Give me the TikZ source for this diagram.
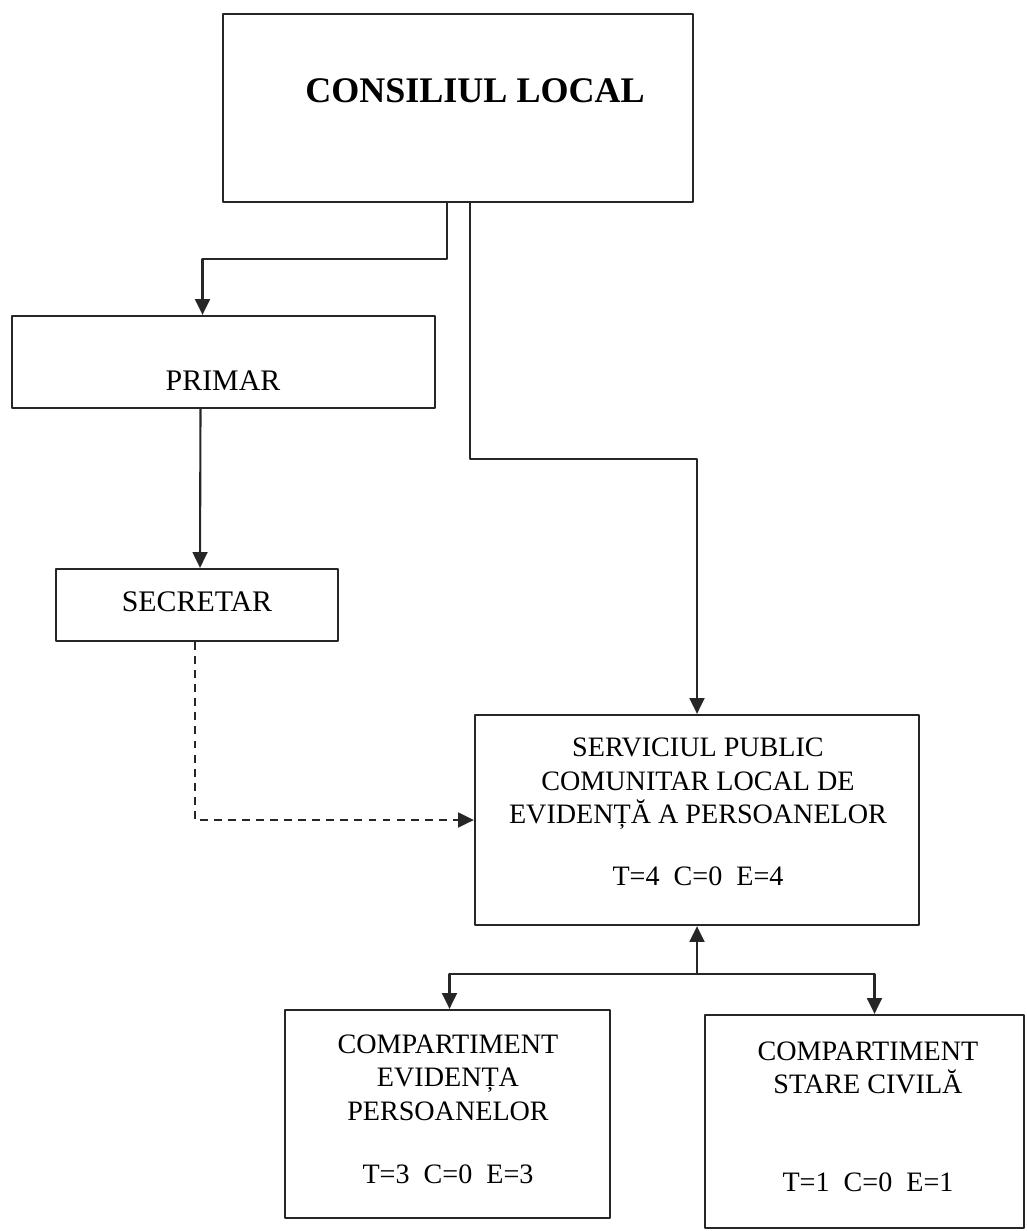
\documentclass[tikz,border=0pt]{standalone}
\usepackage{fontspec}
\setmainfont{Liberation Serif}
\usetikzlibrary{arrows.meta,calc,fit}
\begin{document}
\begin{tikzpicture}[x=0.02cm, y=-0.02cm, line join=round, >={Triangle[length=9pt,width=8.5pt]},
  box/.style={draw=black!85, line width=1.3pt, inner sep=0pt},
  lbl/.style={anchor=base, align=center, inner sep=0pt, font=\fontsize{16}{19}\selectfont},
  link/.style={->, draw=black!85, line width=1.2pt},
  dash link/.style={link, dash pattern=on 4.5pt off 3.5pt}]
\useasboundingbox (0,0) rectangle (1027,1231);
% boxes
\node[box, fit={(223,14) (693,202)}] (cl) {};
\node[box, fit={(12,316) (435,408)}] (prim) {};
\node[box, fit={(56,569) (338,641)}] (sec) {};
\node[box, fit={(475,715) (919,925)}] (serv) {};
\node[box, fit={(285,1010) (610,1218)}] (ev) {};
\node[box, fit={(705,1015) (1024,1228)}] (sc) {};
% texts (base = last line)
\node[lbl, font=\fontsize{20.5}{24}\selectfont\bfseries] (cl-t) at (475,102) {CONSILIUL LOCAL};
\node[lbl, font=\fontsize{17}{20}\selectfont] (prim-t) at (223,390) {PRIMAR};
\node[lbl, font=\fontsize{17}{20}\selectfont] (sec-t) at (197,611) {SECRETAR};
\node[lbl] (serv-t) at (698,885) {SERVICIUL PUBLIC\\ COMUNITAR LOCAL DE\\ EVIDENȚĂ A PERSOANELOR\\[16pt] T=4~~C=0~~E=4};
\node[lbl] (ev-t) at (448,1183) {COMPARTIMENT\\ EVIDENȚA\\ PERSOANELOR\\[16.7pt] T=3~~C=0~~E=3};
\node[lbl] (sc-t) at (868,1191) {COMPARTIMENT\\ STARE CIVILĂ\\[36.5pt] T=1~~C=0~~E=1};
% connectors
\draw[link] ($(cl.south)+(-11,0)$) -- ++(0,56) -| ($(prim.north)+(-21,0)$);
\draw[link] ($(prim.south)+(-23,0)$) -- ($(sec.north)+(3,0)$);
\draw[link] ($(cl.south)+(12,0)$) -- ++(0,256) -| (serv.north);
\draw[dash link] ($(sec.south)+(-2,0)$) |- (serv.west);
\coordinate (fork) at ($(serv.south)+(0,48)$);
\draw[link] (fork) -- (serv.south);
\draw[link] (fork) -| ($(ev.north)+(2,0)$);
\draw[link] (fork) -| ($(sc.north)+(10,0)$);
\end{tikzpicture}
\end{document}
